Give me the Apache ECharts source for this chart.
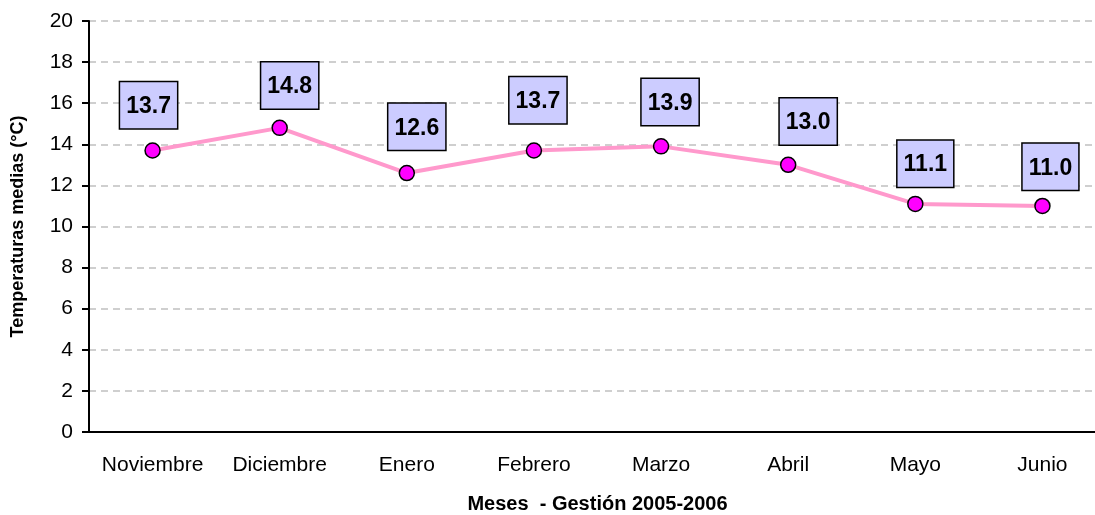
<!DOCTYPE html>
<html>
<head>
<meta charset="utf-8">
<script src="https://cdn.jsdelivr.net/npm/echarts@6/dist/echarts.min.js"></script>
<style>
  html, body { margin: 0; padding: 0; background: #fff; }
  #chart { width: 1095px; height: 515px; }
</style>
</head>
<body>
<div id="chart"></div>
<script>
// meses de la gestion 2005-2006
var meses = ['Noviembre', 'Diciembre', 'Enero', 'Febrero', 'Marzo', 'Abril', 'Mayo', 'Junio'];
// temperaturas medias (°C)
var temperaturas = [13.7, 14.8, 12.6, 13.7, 13.9, 13.0, 11.1, 11.0];

// desplazamiento de cada etiqueta respecto al punto
var desplazamientos = [[-4, -14], [10, -11], [10, -15], [4, -19], [9, -13], [20, -12], [10, -9], [8, -8]];

var fuente = '"Liberation Sans", Arial, sans-serif';

var datos = [];
for (var i = 0; i < temperaturas.length; i++) {
  datos.push({
    value: temperaturas[i],
    label: { offset: desplazamientos[i] }
  });
}

var chart = echarts.init(document.getElementById('chart'));
chart.setOption({
  animation: false,
  grid: { left: 89, right: -11, top: 21, bottom: 83, outerBoundsMode: 'none' },
  xAxis: {
    type: 'category',
    data: meses,
    boundaryGap: true,
    name: 'Meses  - Gestión 2005-2006',
    nameLocation: 'middle',
    nameGap: 62,
    nameTextStyle: { fontFamily: fuente, fontWeight: 'bold', fontSize: 20, color: '#000' },
    axisLine: { lineStyle: { color: '#000', width: 2 } },
    axisTick: { length: 6, interval: 0, lineStyle: { color: '#000', width: 2 }, alignWithLabel: false },
    axisLabel: { interval: 0, fontFamily: fuente, fontSize: 21, color: '#000', margin: 23 },
    splitLine: { show: false }
  },
  yAxis: {
    type: 'value',
    min: 0,
    max: 20,
    interval: 2,
    name: 'Temperaturas medias (°C)',
    nameLocation: 'middle',
    nameGap: 62,
    nameTextStyle: { fontFamily: fuente, fontWeight: 'bold', fontSize: 18, color: '#000' },
    axisLine: { show: true, lineStyle: { color: '#000', width: 2 } },
    axisTick: { show: true, length: 7, lineStyle: { color: '#000', width: 2 } },
    axisLabel: { fontFamily: fuente, fontSize: 21, color: '#000', margin: 16 },
    splitLine: { show: true, lineStyle: { color: '#C0C0C0', width: 1.5, type: [7, 5] } }
  },
  series: [{
    type: 'line',
    data: datos,
    symbol: 'circle',
    symbolSize: 15,
    itemStyle: { color: '#FF00FF', borderColor: '#000', borderWidth: 1.5 },
    lineStyle: { color: '#FF99CC', width: 4 },
    z: 3,
    label: {
      show: true,
      position: 'top',
      distance: 0,
      formatter: function (p) { return p.value.toFixed(1); },
      fontFamily: fuente,
      fontWeight: 'bold',
      fontSize: 23,
      color: '#000',
      backgroundColor: '#CCCCFF',
      borderColor: '#000',
      borderWidth: 1.5,
      padding: [13, 6, 10, 6]
    }
  }]
});
</script>
</body>
</html>
